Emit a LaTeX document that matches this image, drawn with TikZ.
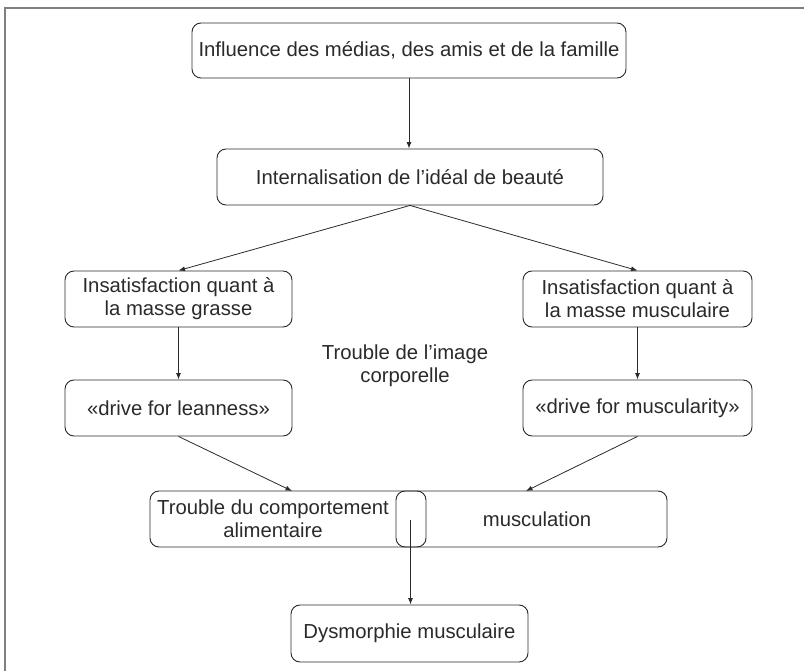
\documentclass[tikz,border=0pt]{standalone}
\usepackage{fontspec}
\setmainfont{Liberation Sans}
\usetikzlibrary{arrows.meta}
\definecolor{ink}{HTML}{2A2A2A}
\definecolor{framegray}{HTML}{808080}
\tikzset{
  box/.style={draw=ink, line width=0.9pt, rounded corners=9pt, inner sep=0pt,
    align=center, text=ink, font=\fontsize{20.3}{23}\selectfont},
  conn/.style={draw=ink, line width=0.8pt, -{Latex[length=6.5pt,width=5pt]}},
  lbl/.style={inner sep=0pt, align=center, text=ink, font=\fontsize{20.3}{23}\selectfont}
}
\begin{document}
\begin{tikzpicture}[x=1pt,y=1pt]
\useasboundingbox (0,0) rectangle (804,-671);
% frame (top and left only)
\draw[framegray, line width=2pt] (5,-671) -- (5,-8) -- (804,-8);

\node[box, minimum width=434pt, minimum height=55pt] (b1) at (409,-50.5)
  {Influence des médias, des amis et de la famille};
\node[box, minimum width=386pt, minimum height=56pt] (b2) at (410,-177)
  {Internalisation de l’idéal de beauté};
\node[box, minimum width=227pt, minimum height=56pt] (b3l) at (178.5,-299)
  {Insatisfaction quant à\\la masse grasse};
\node[box, minimum width=229pt, minimum height=56pt] (b3r) at (637.5,-299)
  {Insatisfaction quant à\\la masse musculaire};
\node[lbl] (tic) at (405,-366) {Trouble de l’image\\corporelle};
\node[box, minimum width=227pt, minimum height=56pt] (b4l) at (178.5,-408)
  {«drive for leanness»};
\node[box, minimum width=229pt, minimum height=56pt] (b4r) at (637.5,-408)
  {«drive for muscularity»};
\node[box, minimum width=517pt, minimum height=56pt] (b5) at (408.5,-519) {};
\node[box, minimum width=30pt, minimum height=56pt] (b5s) at (411,-519) {};
\node[lbl] (tca) at (273,-519) {Trouble du comportement\\alimentaire};
\node[lbl] (mus) at (537,-519) {musculation};
\node[box, minimum width=237pt, minimum height=57pt] (b6) at (409.5,-633.5)
  {Dysmorphie musculaire};

\coordinate (b5a) at (292,-491);
\coordinate (b5b) at (526,-491);
\coordinate (src) at (410.5,-520);

\draw[conn] (b1.south) -- (b1.south |- b2.north);
\draw[conn] (b2.south) -- (b3l.north);
\draw[conn] (b2.south) -- (b3r.north);
\draw[conn] (b3l.south) -- (b4l.north);
\draw[conn] (b3r.south) -- (b4r.north);
\draw[conn] (b4l.south) -- (b5a);
\draw[conn] (b4r.south) -- (b5b);
\draw[conn] (src) -- (src |- b6.north);
\end{tikzpicture}
\end{document}
